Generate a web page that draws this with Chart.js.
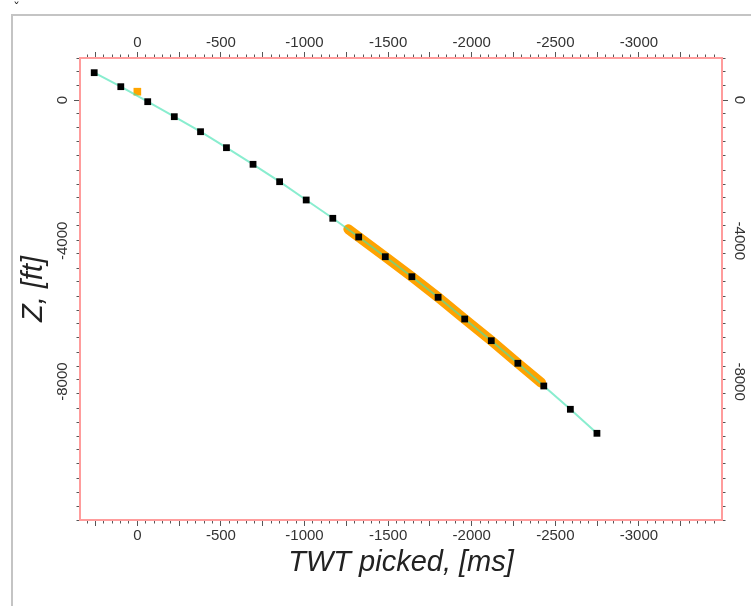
<!DOCTYPE html>
<html><head><meta charset="utf-8">
<script src="https://cdn.jsdelivr.net/npm/chart.js@4"></script>
<style>
html,body{margin:0;padding:0;background:#fff;width:751px;height:606px;overflow:hidden}
#wrap{position:relative;width:751px;height:606px}
canvas{position:absolute;left:0;top:0}
#frame{position:absolute;left:11px;top:14px;right:0;bottom:0;border-left:2px solid #c4c4c4;border-top:2px solid #c4c4c4;pointer-events:none}
#mark{position:absolute;left:13px;top:1px;font:14px 'DejaVu Sans',sans-serif;line-height:14px;color:#222}
</style></head><body>
<div id="wrap"><canvas id="c" width="751" height="606"></canvas><div id="frame"></div><div id="mark">ˇ</div></div>
<script>
// ---- data ----
const twtPicked = [258, 99, -62, -221, -378, -533, -692, -851, -1010, -1169, -1324, -1483, -1642, -1799, -1958, -2117, -2276, -2431, -2590, -2749];
const depthZ    = [776, 378, -48, -474, -901, -1355, -1827, -2321, -2841, -3361, -3892, -4452, -5020, -5605, -6222, -6838, -7480, -8125, -8787, -9469];
const bandTwt   = [-1262, -1324, -1483, -1642, -1799, -1958, -2117, -2276, -2415];
const bandZ     = [-3670, -3892, -4452, -5020, -5605, -6222, -6838, -7480, -8030];
const markerTwt = [0];
const markerZ   = [236];
const xTickLabels = [0, -500, -1000, -1500, -2000, -2500, -3000];
const zTickLabels = [0, -4000, -8000];
const xTitle = 'TWT picked, [ms]';
const zTitle = 'Z, [ft]';

const xMin = -3497, xMax = 343;
const zMin = -11932, zMax = 1193;

const FONT = "'Liberation Sans', Arial, sans-serif";
const BORDER = '#ff9c9c';
const TICK = '#555';

const toPts = (xs, ys) => xs.map((x, i) => ({x: x, y: ys[i]}));

function majorX(v){ return Math.abs(Math.round(v)) % 250 === 0; }
function majorZ(v){ return Math.abs(Math.round(v)) % 2000 === 0; }

function xAxis(pos){
  const outer = pos === 'top';
  return {
    type: 'linear', position: pos, min: xMin, max: xMax, reverse: true,
    border: {display: true, color: BORDER, width: 2},
    grid: {drawOnChartArea: false, drawTicks: true, tickLength: 6, tickColor: TICK, tickWidth: 1,
      tickBorderDash: (c) => majorX(c.tick.value) ? [] : (outer ? [0, 2.5, 2.5, 30] : [2.5, 30])},
    ticks: {stepSize: 50, autoSkip: false, includeBounds: false, minRotation: 0, maxRotation: 0,
      padding: pos === 'top' ? 0 : 1, color: '#333', font: {family: FONT, size: 15},
      callback: (v) => xTickLabels.includes(Math.round(v)) ? String(Math.round(v)) : ''},
    title: pos === 'bottom' ? {display: true, text: xTitle, color: '#222',
      font: {family: FONT, size: 29, style: 'italic'}, padding: {top: 0, bottom: 26}} : {display: false},
    afterFit: (s) => { s.height = pos === 'top' ? 58 : 86; }
  };
}
function zAxis(pos){
  const outer = pos === 'left';
  return {
    type: 'linear', position: pos, min: zMin, max: zMax,
    border: {display: true, color: BORDER, width: 2},
    grid: {drawOnChartArea: false, drawTicks: true, tickLength: 6, tickColor: TICK, tickWidth: 1,
      tickBorderDash: (c) => majorZ(c.tick.value) ? [] : (outer ? [0, 2.5, 2.5, 30] : [2.5, 30])},
    ticks: {stepSize: 400, autoSkip: false, includeBounds: false, padding: 0,
      callback: () => ''},
    title: pos === 'left' ? {display: true, text: zTitle, color: '#222',
      font: {family: FONT, size: 29, style: 'italic'}, padding: {top: 17, bottom: 0}} : {display: false},
    afterFit: (s) => { s.width = pos === 'left' ? 80 : 29; }
  };
}

// rotated depth labels, placed through the depth scales
const rotatedZLabels = {
  id: 'rotatedZLabels',
  afterDraw(chart) {
    const ctx = chart.ctx;
    ['y', 'y2'].forEach((id) => {
      const s = chart.scales[id];
      const left = s.position === 'left';
      const xc = left ? s.right - 17.5 : s.left + 17.5;
      zTickLabels.forEach((v) => {
        const py = s.getPixelForValue(v);
        ctx.save();
        ctx.translate(xc, py);
        ctx.rotate(left ? -Math.PI / 2 : Math.PI / 2);
        ctx.font = '15px ' + FONT;
        ctx.fillStyle = '#333';
        ctx.textAlign = 'center';
        ctx.textBaseline = 'middle';
        ctx.fillText(String(v), 0, 0);
        ctx.restore();
      });
    });
  }
};

new Chart(document.getElementById('c'), {
  type: 'scatter',
  data: {
    datasets: [
      {label: 'picks', data: toPts(twtPicked, depthZ), showLine: false, pointStyle: 'rect',
       pointRadius: 4.8, pointBackgroundColor: '#000', pointBorderWidth: 0, order: 0},
      {label: 'trend', data: toPts(twtPicked, depthZ), showLine: true, borderColor: 'rgba(64,226,178,0.62)',
       borderWidth: 2, pointRadius: 0, order: 1},
      {label: 'marker', data: toPts(markerTwt, markerZ), showLine: false, pointStyle: 'rect',
       pointRadius: 5.4, pointBackgroundColor: '#ffa500', pointBorderWidth: 0, order: 2},
      {label: 'band', data: toPts(bandTwt, bandZ), showLine: true, borderColor: '#ffa200',
       borderWidth: 10, borderCapStyle: 'round', borderJoinStyle: 'round', pointRadius: 0, order: 3}
    ]
  },
  options: {
    responsive: false, animation: false, events: [],
    layout: {padding: 0},
    plugins: {legend: {display: false}, tooltip: {enabled: false}},
    scales: {
      x: xAxis('bottom'), x2: xAxis('top'),
      y: zAxis('left'), y2: zAxis('right')
    }
  },
  plugins: [rotatedZLabels]
});
</script>
</body></html>
